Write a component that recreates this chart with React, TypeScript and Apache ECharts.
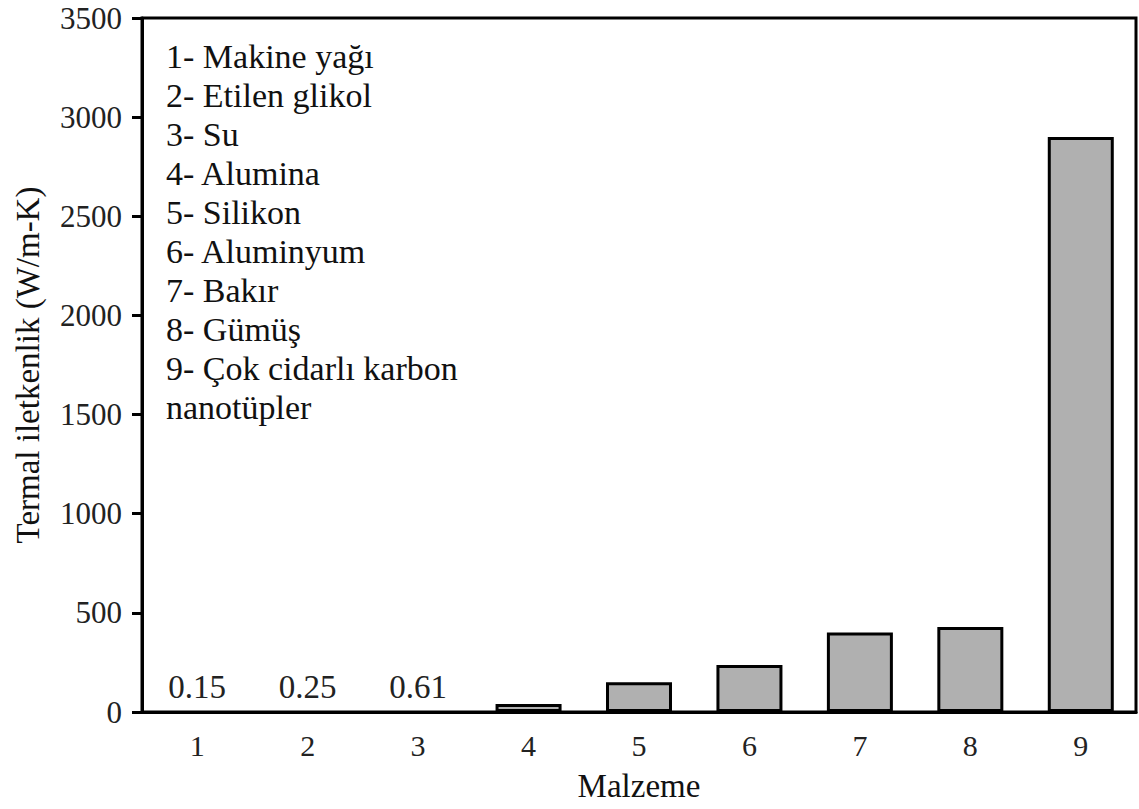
import React, { useEffect, useRef } from "react";
import * as echarts from "echarts";

const categories = ["1", "2", "3", "4", "5", "6", "7", "8", "9"];
const conductivity = [0.15, 0.25, 0.61, 40, 150, 237, 401, 429, 2900];
const smallValueLabels = ["0.15", "0.25", "0.61"];
const legendLines = [
  "1- Makine yağı",
  "2- Etilen glikol",
  "3- Su",
  "4- Alumina",
  "5- Silikon",
  "6- Aluminyum",
  "7- Bakır",
  "8- Gümüş",
  "9- Çok cidarlı karbon",
  "nanotüpler",
];
const yTitle = "Termal iletkenlik (W/m-K)";
const xTitle = "Malzeme";

const FONT = "Liberation Serif";

export default function App() {
  const ref = useRef<HTMLDivElement>(null);
  useEffect(() => {
    if (!ref.current) return;
    const chart = echarts.init(ref.current, undefined, { renderer: "svg" });
    const data = conductivity.map((v, i) => {
      if (i < smallValueLabels.length) {
        return {
          value: v,
          itemStyle: { borderWidth: 0, color: "transparent" },
          label: {
            show: true,
            position: "top",
            distance: 8,
            formatter: smallValueLabels[i],
            fontFamily: FONT,
            fontSize: 33,
            color: "#222",
          },
        };
      }
      return { value: v };
    });
    chart.setOption({
      animation: false,
      backgroundColor: "#fff",
      textStyle: { fontFamily: FONT },
      grid: {
        left: 142,
        right: 3,
        top: 18,
        bottom: 97,
        outerBoundsMode: "none",
        containLabel: false,
        show: true,
        borderColor: "#000",
        borderWidth: 3,
        backgroundColor: "transparent",
      },
      xAxis: {
        type: "category",
        data: categories,
        name: xTitle,
        nameLocation: "middle",
        nameGap: 57,
        nameTextStyle: { fontFamily: FONT, fontSize: 33, color: "#111" },
        axisLine: { lineStyle: { color: "#000", width: 3 } },
        axisTick: { alignWithLabel: true, length: 10, lineStyle: { color: "#000", width: 3 } },
        axisLabel: { fontFamily: FONT, fontSize: 30, color: "#222", margin: 18 },
      },
      yAxis: {
        type: "value",
        min: 0,
        max: 3500,
        interval: 500,
        name: yTitle,
        nameLocation: "middle",
        nameGap: 98,
        nameRotate: 90,
        nameTextStyle: { fontFamily: FONT, fontSize: 33, color: "#111" },
        axisLine: { show: true, lineStyle: { color: "#000", width: 3 } },
        axisTick: { show: true, length: 10, lineStyle: { color: "#000", width: 3 } },
        axisLabel: {
          fontFamily: FONT,
          fontSize: 31,
          color: "#222",
          margin: 20,
          formatter: (v: number) => String(v),
        },
        splitLine: { show: false },
      },
      series: [
        {
          type: "bar",
          data,
          barWidth: 66,
          itemStyle: { color: "#b0b0b0", borderColor: "#000", borderWidth: 3 },
        },
      ],
      graphic: [
        {
          type: "text",
          left: 166,
          top: 37,
          style: {
            text: legendLines.join("\n"),
            fontFamily: FONT,
            fontSize: 34,
            lineHeight: 39,
            fill: "#111",
          },
        },
      ],
    });
    return () => chart.dispose();
  }, []);
  return (
    <div
      ref={ref}
      style={{ position: "fixed", left: 0, top: 0, width: 1139, height: 809, background: "#fff" }}
    />
  );
}
